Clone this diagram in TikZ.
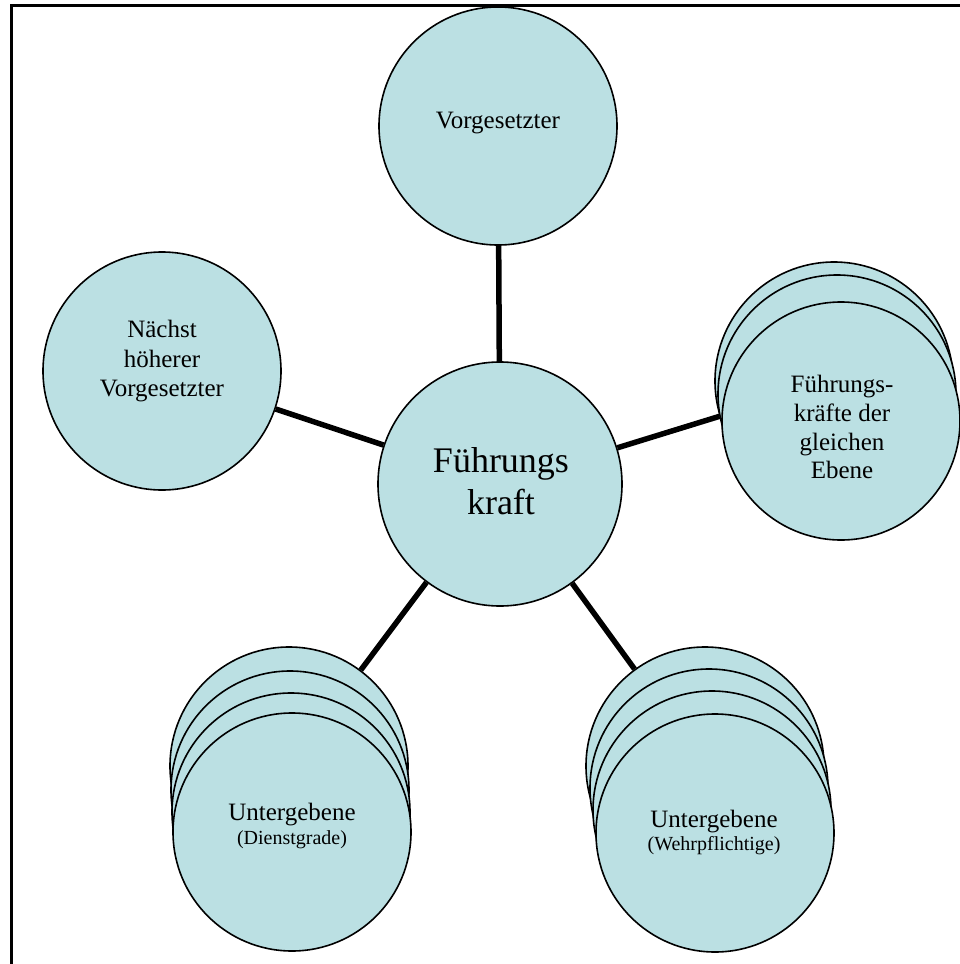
\documentclass[tikz,border=0pt]{standalone}
\usepackage{fontspec}
\setmainfont{Liberation Serif}
\usetikzlibrary{backgrounds}
\definecolor{tealfill}{HTML}{BBE0E3}
\begin{document}
\begin{tikzpicture}[x=1pt,y=-1pt,
  disc/.style={circle,draw=black,line width=1.6pt,fill=tealfill,
    minimum size=#1,inner sep=0pt},
  disc/.default=238pt,
  lbl/.style={anchor=base,inner sep=0pt,font=\fontsize{25}{30}\selectfont},
  small/.style={anchor=base,inner sep=0pt,font=\fontsize{20}{24}\selectfont},
  big/.style={anchor=base,inner sep=0pt,font=\fontsize{36}{42}\selectfont},
  link/.style={line width=5.5pt,draw=black}]
\useasboundingbox (0,0) rectangle (960,964);

% page frame (top and left edges)
\draw[line width=2.4pt] (11.5,964) -- (11.5,5.5) -- (960,5.5);

% central and single discs
\node[disc=244pt] (fk) at (500,484) {};
\node[disc] (vg) at (498,126) {};
\node[disc] (nh) at (162,371) {};

% stacked discs: peers on the same level
\node[disc] (fg1) at (834,381) {};
\node[disc] (fg2) at (837,394) {};
\node[disc] (fg3) at (841,421) {};

% stacked discs: subordinates (ranks)
\node[disc] (dg1) at (289,766) {};
\node[disc] (dg2) at (290,790) {};
\node[disc] (dg3) at (291,812) {};
\node[disc] (dg4) at (292,832) {};

% stacked discs: subordinates (conscripts)
\node[disc] (wp1) at (705,766) {};
\node[disc] (wp2) at (709,788) {};
\node[disc] (wp3) at (712,810) {};
\node[disc] (wp4) at (715,833) {};

% connectors behind the discs
\begin{pgfonlayer}{background}
\draw[link] (fk) -- (vg);
\draw[link] (fk) -- (nh);
\draw[link] (fk) -- (fg1);
\draw[link] (fk) -- (dg1);
\draw[link] (fk) -- (wp1);
\end{pgfonlayer}

% labels
\node[big] (fkA) at (501,472) {Führungs};
\node[big] (fkB) at (501,514) {kraft};

\node[lbl] (vgA) at (498,128) {Vorgesetzter};

\node[lbl] (nhA) at (162,337) {Nächst};
\node[lbl] (nhB) at (162,367) {höherer};
\node[lbl] (nhC) at (162,396) {Vorgesetzter};

\node[lbl] (fgA) at (842,392) {Führungs-};
\node[lbl] (fgB) at (842,421) {kräfte der};
\node[lbl] (fgC) at (842,450) {gleichen};
\node[lbl] (fgD) at (842,478) {Ebene};

\node[lbl] (dgA) at (292,820) {Untergebene};
\node[small] (dgB) at (292,844) {(Dienstgrade)};

\node[lbl] (wpA) at (714,827) {Untergebene};
\node[small] (wpB) at (714,850) {(Wehrpflichtige)};
\end{tikzpicture}
\end{document}
